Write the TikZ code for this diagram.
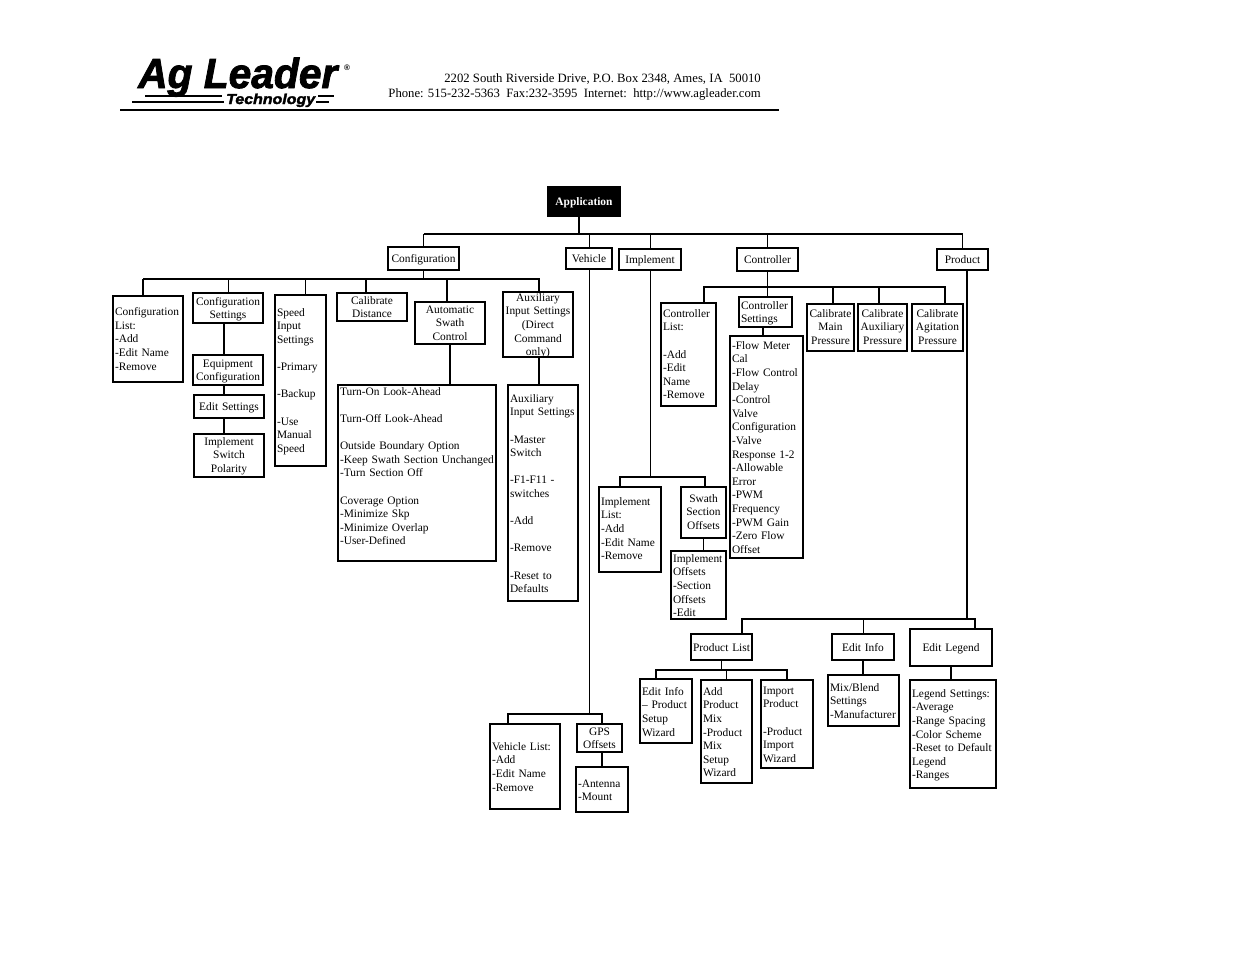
\documentclass[tikz,border=0pt]{standalone}
\usepackage{fontspec}
\setmainfont{Liberation Serif}
\newfontfamily\logofont[BoldItalicFeatures={FakeBold=2}]{Liberation Sans}
\tikzset{
	bx/.style n args={3}{draw, line width=1.3pt, anchor=north west, inner xsep=2pt, inner ysep=0pt, outer sep=0pt,
		font=\fontsize{11.4}{13.6}\selectfont, text width=#1pt-4pt, text height=#3pt+0.7pt, text depth=#2pt-#3pt-0.7pt},
	lbx/.style n args={3}{bx={#1}{#2}{#3}, align=left},
	cbx/.style n args={3}{bx={#1}{#2}{#3}, align=center},
	wire/.style={line width=1.4pt},
	thinwire/.style={line width=0.9pt},
	addr/.style={anchor=base east, inner sep=0pt, font=\fontsize{12.7}{13.6}\selectfont}
}
\begin{document}
\begin{tikzpicture}[x=1pt, y=-1pt]
	\useasboundingbox (0, 0) rectangle (1235, 954);
	% letterhead
	\node[inner sep=0pt, anchor=base west, xscale=0.97, transform shape, font=\fontsize{42}{42}\logofont\bfseries\itshape] (logo) at (138, 88) {Ag Leader};
	\node[inner sep=0pt, anchor=base west, xscale=1.1, transform shape, font=\fontsize{14.5}{14.5}\logofont\bfseries\itshape] (tech) at (226, 104) {Technology};
	\node[inner sep=0pt, font=\fontsize{8}{8}\logofont\bfseries] (reg) at (347, 68) {®};
	\node[addr] (addra) at (761, 82) {2202 South Riverside Drive, P.O. Box 2348, Ames, IA\ \ 50010};
	\node[addr] (addrb) at (761, 97) {Phone: 515-232-5363\ \ Fax:232-3595\ \ Internet:\ \ http://www.agleader.com};
	\draw[line width=1.1pt] (145, 96) -- (222, 96);
	\draw[line width=1.1pt] (132, 102) -- (224, 102);
	\draw[line width=1.1pt] (318, 96) -- (334, 96);
	\draw[line width=1.1pt] (316, 102) -- (329, 102);
	\draw[line width=2pt] (120, 110) -- (779, 110);

	% top level
	\node[cbx={72}{29}{17.3}, fill=black, text=white, font=\fontsize{11.4}{13.6}\selectfont\bfseries] (app) at (548, 187) {Application};
	\node[cbx={71}{23}{14.5}] (config) at (388, 247) {Configuration};
	\node[cbx={46}{21}{13.5}] (vehicle) at (566, 248) {Vehicle};
	\node[cbx={62}{21}{13.5}] (impl) at (619, 249) {Implement};
	\node[cbx={61}{23}{14.5}] (ctrl) at (737, 248) {Controller};
	\node[cbx={51}{21}{13.5}] (prod) at (937, 249) {Product};
	\coordinate (topl) at (423.5, 234);
	\coordinate (topr) at (962.5, 234);
	\draw[wire] (topl) -- (topr);
	\draw[wire] ([xshift=-5pt]app.south) -- ([xshift=-5pt]app.south |- topl);
	\draw[wire] (topl) -- (config.north);
	\draw[thinwire] (vehicle.north |- topl) -- (vehicle.north);
	\draw[thinwire] (impl.north |- topl) -- (impl.north);
	\draw[wire] (ctrl.north |- topl) -- (ctrl.north);
	\draw[wire] (topr) -- (prod.north);

	% configuration
	\node[lbx={70}{86}{19}] (cfglist) at (113, 296) {Configuration\\List:\\-Add\\-Edit Name\\-Remove};
	\node[cbx={70}{30}{11.5}] (cfgset) at (193, 293) {Configuration\\Settings};
	\node[cbx={70}{30}{11.5}] (equip) at (193, 355) {Equipment\\Configuration};
	\node[cbx={70}{23}{14.5}] (editset) at (194, 395) {Edit Settings};
	\node[cbx={70}{43}{10.5}] (polarity) at (194, 434) {Implement\\Switch\\Polarity};
	\node[lbx={51}{171}{20.5}] (speed) at (275, 295) {Speed\\Input\\Settings\\[13.6pt]-Primary\\[13.6pt]-Backup\\[13.6pt]-Use\\Manual\\Speed};
	\node[cbx={70}{28}{10.5}] (caldist) at (337, 293) {Calibrate\\Distance};
	\node[cbx={70}{42}{10.5}] (swath) at (415, 302) {Automatic\\Swath\\Control};
	\node[cbx={70}{65}{8.5}] (auxin) at (503, 292) {Auxiliary\\Input Settings\\(Direct\\Command\\only)};
	\node[lbx={158}{176}{9.5}] (look) at (338, 385) {Turn-On Look-Ahead\\[13.6pt]Turn-Off Look-Ahead\\[13.6pt]Outside Boundary Option\\-Keep Swath Section Unchanged\\-Turn Section Off\\[13.6pt]Coverage Option\\-Minimize Skp\\-Minimize Overlap\\-User-Defined};
	\node[lbx={70}{216}{16.5}] (auxset) at (508, 385) {Auxiliary\\Input Settings\\[13.6pt]-Master\\Switch\\[13.6pt]-F1-F11 -\\switches\\[13.6pt]-Add\\[13.6pt]-Remove\\[13.6pt]-Reset to\\Defaults};
	\coordinate (cfgl) at (143, 279);
	\coordinate (cfgr) at (539, 279);
	\draw[wire] (cfgl) -- (cfgr) -- (cfgr |- auxin.north);
	\draw[wire] (config.south) -- (config.south |- cfgl);
	\draw[wire] (cfgl) -- (cfgl |- cfglist.north);
	\draw[thinwire] (cfgset.north |- cfgl) -- (cfgset.north);
	\draw[thinwire] ([xshift=4.5pt]speed.north |- cfgl) -- ([xshift=4.5pt]speed.north);
	\draw[wire] ([xshift=-6pt]caldist.north |- cfgl) -- ([xshift=-6pt]caldist.north);
	\draw[wire] ([xshift=-3pt]swath.north |- cfgl) -- ([xshift=-3pt]swath.north);
	\draw[wire] ([xshift=-4pt]cfgset.south) -- ([xshift=-4pt]equip.north);
	\draw[wire] ([xshift=-4pt]equip.south) -- ([xshift=-5pt]editset.north);
	\draw[wire] ([xshift=-5pt]editset.south) -- ([xshift=-5pt]polarity.north);
	\draw[wire] (swath.south) -- (swath.south |- look.north);
	\draw[wire] ([xshift=1pt]auxin.south) -- ([xshift=1pt]auxin.south |- auxset.north);

	% vehicle
	\node[lbx={70}{85}{25.5}] (vehlist) at (490, 724) {Vehicle List:\\-Add\\-Edit Name\\-Remove};
	\node[cbx={45}{28}{10.5}] (gps) at (577, 724) {GPS\\Offsets};
	\node[lbx={52}{45}{19.5}] (antenna) at (576, 767) {-Antenna\\-Mount};
	\coordinate (vehl) at (508, 714);
	\coordinate (vehr) at (602, 714);
	\draw[wire] (vehl |- vehlist.north) -- (vehl) -- (vehr) -- (vehr |- gps.north);
	\draw[thinwire] (vehicle.south) -- (vehicle.south |- vehl);
	\draw[wire] (vehr |- gps.south) -- (vehr |- antenna.north);

	% implement
	\node[lbx={62}{85}{17.5}] (impllist) at (599, 487) {Implement\\List:\\-Add\\-Edit Name\\-Remove};
	\node[cbx={45}{51}{14.5}] (swoff) at (681, 487) {Swath\\Section\\Offsets};
	\node[lbx={55}{68}{10.5}] (imploff) at (671, 551) {Implement\\Offsets\\-Section\\Offsets\\-Edit};
	\coordinate (impbl) at (620, 477);
	\coordinate (impbr) at (705, 477);
	\draw[wire] (impbl |- impllist.north) -- (impbl) -- (impbr) -- (impbr |- swoff.north);
	\draw[thinwire] (impl.south) -- (impl.south |- impbl);
	\draw[wire] (swoff.south) -- (swoff.south |- imploff.north);

	% controller
	\node[lbx={55}{103}{13.5}] (ctllist) at (661, 303) {Controller\\List:\\[13.6pt]-Add\\-Edit\\Name\\-Remove};
	\node[lbx={53}{30}{11.5}] (ctlset) at (739, 297) {Controller\\Settings};
	\node[lbx={73}{222}{12.5}] (flow) at (730, 336) {-Flow Meter\\Cal\\-Flow Control\\Delay\\-Control\\Valve\\Configuration\\-Valve\\Response 1-2\\-Allowable\\Error\\-PWM\\Frequency\\-PWM Gain\\-Zero Flow\\Offset};
	\node[cbx={47}{47}{12.5}] (calmain) at (807, 304) {Calibrate\\Main\\Pressure};
	\node[cbx={49}{47}{12.5}] (calaux) at (858, 304) {Calibrate\\Auxiliary\\Pressure};
	\node[cbx={51}{47}{12.5}] (calagi) at (912, 304) {Calibrate\\Agitation\\Pressure};
	\coordinate (ctll) at (704, 287);
	\coordinate (ctlr) at (945, 287);
	\draw[wire] (ctll |- ctllist.north) -- (ctll) -- (ctlr) -- (ctlr |- calagi.north);
	\draw[wire] (ctrl.south) -- (ctrl.south |- ctlset.north);
	\draw[wire] ([xshift=2.5pt]calmain.north |- ctll) -- ([xshift=2.5pt]calmain.north);
	\draw[wire] ([xshift=-3.5pt]calaux.north |- ctll) -- ([xshift=-3.5pt]calaux.north);
	\draw[wire] ([xshift=-2.5pt]ctlset.south) -- ([xshift=-2.5pt]ctlset.south |- flow.north);

	% product
	\node[cbx={61}{26}{16.5}] (prodlist) at (691, 634) {Product List};
	\node[cbx={62}{26}{16.5}] (editinfo) at (832, 634) {Edit Info};
	\node[cbx={82}{37}{21.5}] (editleg) at (910, 629) {Edit Legend};
	\node[lbx={52}{64}{15.5}] (infowiz) at (640, 679) {Edit Info\\-- Product\\Setup\\Wizard};
	\node[lbx={51}{103}{14.5}] (addmix) at (701, 680) {Add\\Product\\Mix\\-Product\\Mix\\Setup\\Wizard};
	\node[lbx={52}{88}{13.5}] (import) at (761, 680) {Import\\Product\\[13.6pt]-Product\\Import\\Wizard};
	\node[lbx={71}{51}{15.5}] (mix) at (828, 675) {Mix/Blend\\Settings\\-Manufacturer};
	\node[lbx={86}{108}{16.5}] (legend) at (910, 680) {Legend Settings:\\-Average\\-Range Spacing\\-Color Scheme\\-Reset to Default\\Legend\\-Ranges};
	\coordinate (prdl) at (742, 619);
	\coordinate (prdr) at (975, 619);
	\coordinate (subl) at (656, 670);
	\coordinate (subr) at (787, 670);
	\draw[wire] (prdl |- prodlist.north) -- (prdl) -- (prdr) -- (prdr |- editleg.north);
	\draw[wire] ([xshift=4.5pt]prod.south) -- ([xshift=4.5pt]prod.south |- prdl);
	\draw[thinwire] (editinfo.north |- prdl) -- (editinfo.north);
	\draw[wire] (editinfo.south) -- (editinfo.south |- mix.north);
	\draw[wire] (editleg.south) -- (editleg.south |- legend.north);
	\draw[wire] (subl |- infowiz.north) -- (subl) -- (subr) -- (subr |- import.north);
	\draw[thinwire] (prodlist.south) -- (prodlist.south |- subl);
	\draw[thinwire] (addmix.north |- subl) -- (addmix.north);
\end{tikzpicture}
\end{document}
